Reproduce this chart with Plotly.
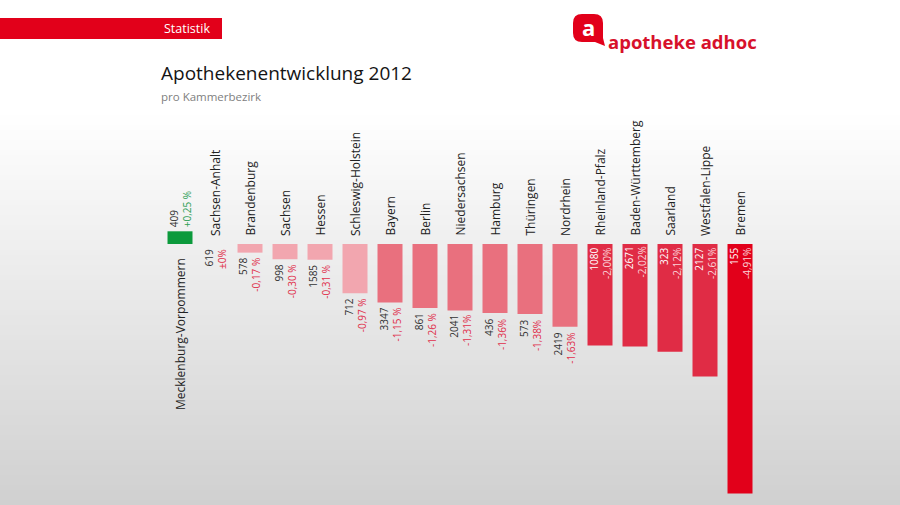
import plotly.graph_objects as go

# ---------------- data ----------------
regions = ["Mecklenburg-Vorpommern", "Sachsen-Anhalt", "Brandenburg", "Sachsen", "Hessen",
           "Schleswig-Holstein", "Bayern", "Berlin", "Niedersachsen", "Hamburg", "Thüringen",
           "Nordrhein", "Rheinland-Pfalz", "Baden-Württemberg", "Saarland", "Westfalen-Lippe",
           "Bremen"]
counts = [409, 619, 578, 998, 1585, 712, 3347, 861, 2041, 436, 573, 2419, 1080, 2671, 323, 2127, 155]
changes = [0.25, 0.0, -0.17, -0.30, -0.31, -0.97, -1.15, -1.26, -1.31, -1.36, -1.38, -1.63,
           -2.00, -2.02, -2.12, -2.61, -4.91]
change_labels = ["+0,25 %", "±0%", "-0,17 %", "-0,30 %", "-0,31 %", "-0,97 %", "-1,15 %",
                 "-1,26 %", "-1,31%", "-1,36%", "-1,38%", "-1,63%", "-2,00%", "-2,02%",
                 "-2,12%", "-2,61%", "-4,91%"]

title = "Apothekenentwicklung 2012"
subtitle = "pro Kammerbezirk"
section = "Statistik"
brand = "apotheke adhoc"

# ---------------- layout geometry (plot area = whole figure) ----------------
W, H = 900, 505
FONT = "Open Sans"
X0_PX, STEP_PX = 180.0, 35.0      # pixel centre of first category, spacing
BASE_PX, UNIT_PX = 244.0, 50.8    # pixel of zero line, pixels per percent
x_range = [(0 - X0_PX) / STEP_PX, (W - X0_PX) / STEP_PX]
y_range = [-(H - BASE_PX) / UNIT_PX, BASE_PX / UNIT_PX]


def px(x):
    return x / W


def py(y):
    return 1 - y / H


def bar_color(c):
    if c > 0:
        return "#0c9a3c"
    if c > -1:
        return "#f2a6af"
    if c > -2:
        return "#e9707e"
    if c > -3:
        return "#e02c45"
    return "#e2001a"


colors = [bar_color(c) for c in changes]

fig = go.Figure(go.Bar(x=list(range(len(regions))), y=changes,
                       marker=dict(color=colors, line=dict(width=0)),
                       width=0.714, hoverinfo="skip"))

shapes = []
# background gradient
g_top, g_bot, steps = 110, 505, 79
for k in range(steps):
    y0 = g_top + (g_bot - g_top) * k / steps
    y1 = g_top + (g_bot - g_top) * (k + 1) / steps + 0.5
    v = int(round(255 - (255 - 208) * (k + 0.5) / steps))
    shapes.append(dict(type="rect", xref="paper", yref="paper", x0=0, x1=1,
                       y0=max(py(y1), 0), y1=py(y0), fillcolor=f"rgb({v},{v},{v})",
                       line=dict(width=0), layer="below"))
# red header bar
shapes.append(dict(type="rect", xref="paper", yref="paper", x0=0, x1=px(222),
                   y0=py(39), y1=py(18), fillcolor="#e2001a", line=dict(width=0)))
# logo bubble (rounded square with a tail)
bx0, bx1, by0, by1, r = 573, 603, 14, 42, 9
bubble = (f"M {px(bx0 + r)},{py(by0)} L {px(bx1 - r)},{py(by0)} "
          f"Q {px(bx1)},{py(by0)} {px(bx1)},{py(by0 + r)} "
          f"L {px(bx1)},{py(by1 - 4)} L {px(bx1 + 2)},{py(by1 + 4)} L {px(bx1 - 8)},{py(by1)} "
          f"L {px(bx0 + r)},{py(by1)} "
          f"Q {px(bx0)},{py(by1)} {px(bx0)},{py(by1 - r)} "
          f"L {px(bx0)},{py(by0 + r)} Q {px(bx0)},{py(by0)} {px(bx0 + r)},{py(by0)} Z")
shapes.append(dict(type="path", xref="paper", yref="paper", path=bubble,
                   fillcolor="#e2001a", line=dict(width=0)))

ann = []
ann.append(dict(xref="paper", yref="paper", x=px(212), y=py(28.5), xanchor="right",
                yanchor="middle", text=section, showarrow=False,
                font=dict(family=FONT, size=12.5, color="white")))
ann.append(dict(xref="paper", yref="paper", x=px(588), y=py(27), xanchor="center",
                yanchor="middle", text="<b>a</b>", showarrow=False,
                font=dict(family=FONT, size=22, color="white")))
ann.append(dict(xref="paper", yref="paper", x=px(606), y=py(42), xanchor="left",
                yanchor="middle", text=f"<b>{brand}</b>", showarrow=False,
                font=dict(family=FONT, size=18.5, color="#d7112b")))
ann.append(dict(xref="paper", yref="paper", x=px(159), y=py(73), xanchor="left",
                yanchor="middle", text=title, showarrow=False,
                font=dict(family=FONT, size=19, color="#141414")))
ann.append(dict(xref="paper", yref="paper", x=px(159), y=py(97), xanchor="left",
                yanchor="middle", text=subtitle, showarrow=False,
                font=dict(family=FONT, size=11.5, color="#808080")))

for i, (name, n, c, lab) in enumerate(zip(regions, counts, changes, change_labels)):
    if c > 0:
        ann.append(dict(x=i, y=0, xanchor="center", yanchor="top", yshift=-12,
                        textangle=-90, text=name, showarrow=False,
                        font=dict(family=FONT, size=12, color="#222222")))
        ann.append(dict(x=i, y=c, xanchor="center", yanchor="bottom", yshift=2,
                        textangle=-90, align="left", showarrow=False,
                        text=f"{n}<br><span style='color:#2e9e55'>{lab}</span>",
                        font=dict(family=FONT, size=10, color="#333333")))
    else:
        ann.append(dict(x=i, y=0, xanchor="center", yanchor="bottom", yshift=6,
                        textangle=-90, text=name, showarrow=False,
                        font=dict(family=FONT, size=12, color="#222222")))
        if c > -2:
            ann.append(dict(x=i, y=c, xanchor="center", yanchor="top", yshift=-3,
                            textangle=-90, align="right", showarrow=False,
                            text=f"{n}<br><span style='color:#e0304c'>{lab}</span>",
                            font=dict(family=FONT, size=10, color="#333333")))
        else:
            ann.append(dict(x=i, y=0, xanchor="center", yanchor="top", yshift=-1,
                            textangle=-90, align="right", showarrow=False,
                            text=f"{n}<br><span style='color:#fbd3d8'>{lab}</span>",
                            font=dict(family=FONT, size=10, color="#ffffff")))

fig.update_layout(
    width=W, height=H,
    margin=dict(l=0, r=0, t=0, b=0, pad=0),
    paper_bgcolor="white", plot_bgcolor="rgba(0,0,0,0)",
    showlegend=False,
    xaxis=dict(visible=False, range=x_range, fixedrange=True),
    yaxis=dict(visible=False, range=y_range, fixedrange=True),
    shapes=shapes, annotations=ann,
    font=dict(family=FONT),
)

fig.write_html("out.html", config={"displayModeBar": False},
               post_script="document.body.style.margin='0';")
